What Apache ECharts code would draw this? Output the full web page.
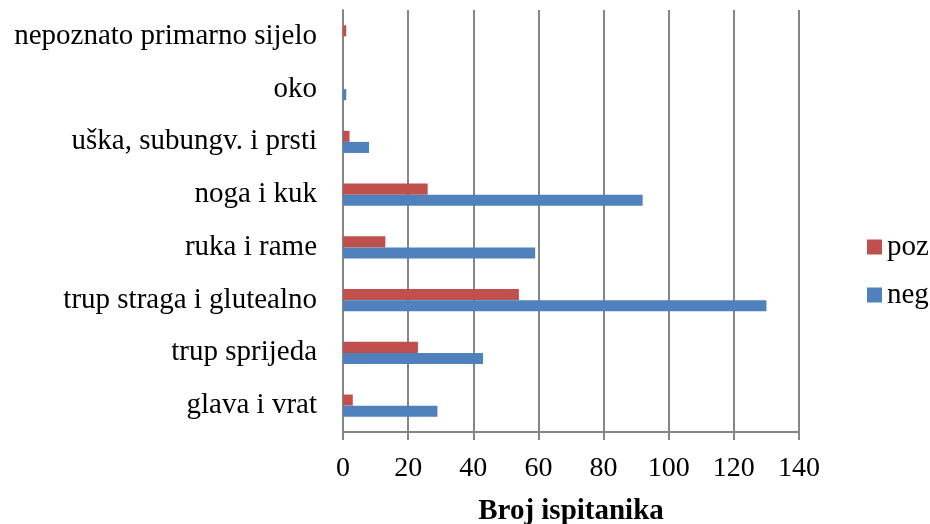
<!DOCTYPE html>
<html><head><meta charset="utf-8">
<script src="https://cdn.jsdelivr.net/npm/echarts@6/dist/echarts.min.js"></script>
<style>html,body{margin:0;padding:0;background:#fff}#c{width:930px;height:524px}</style>
</head><body><div id="c"></div>
<script>
const categories = ['glava i vrat','trup sprijeda','trup straga i glutealno','ruka i rame','noga i kuk','uška, subungv. i prsti','oko','nepoznato primarno sijelo'];
const pozValues = [3, 23, 54, 13, 26, 2, 0, 1];
const negValues = [29, 43, 130, 59, 92, 8, 1, 0];
const xTicks = [0, 20, 40, 60, 80, 100, 120, 140];
const font = '"Liberation Serif", "Times New Roman", serif';
const chart = echarts.init(document.getElementById('c'));
chart.setOption({
  animation: false,
  textStyle: { fontFamily: font },
  grid: { left: 343, right: 131, top: 10, bottom: 92, containLabel: false, outerBoundsMode: 'none' },
  legend: {
    orient: 'vertical', left: 862, top: 227,
    data: ['poz', 'neg'],
    itemWidth: 15, itemHeight: 15, itemGap: 18,
    icon: 'rect',
    textStyle: { fontFamily: font, fontSize: 29, lineHeight: 30, color: '#000' }
  },
  xAxis: {
    type: 'value', min: xTicks[0], max: xTicks[xTicks.length-1], interval: 20,
    name: 'Broj ispitanika', nameLocation: 'middle', nameGap: 65,
    nameTextStyle: { fontFamily: font, fontSize: 29, fontWeight: 'bold', color: '#000' },
    axisLine: { show: true, lineStyle: { color: '#868686', width: 2 } },
    axisTick: { show: true, length: 8, lineStyle: { color: '#868686', width: 2 } },
    axisLabel: { fontFamily: font, fontSize: 28, color: '#000', margin: 23 },
    splitLine: { show: true, lineStyle: { color: '#868686', width: 2 } }
  },
  yAxis: {
    type: 'category', data: categories,
    axisLine: { show: true, lineStyle: { color: '#868686', width: 2 } },
    axisTick: { show: false },
    axisLabel: { fontFamily: font, fontSize: 29, color: '#000', margin: 26 }
  },
  series: [
    { name: 'poz', type: 'bar', data: pozValues, barGap: '0%', barCategoryGap: '58%',
      itemStyle: { color: '#C0504D' } },
    { name: 'neg', type: 'bar', data: negValues, barGap: '0%', barCategoryGap: '58%',
      itemStyle: { color: '#4F81BD' } }
  ]
});
</script></body></html>
